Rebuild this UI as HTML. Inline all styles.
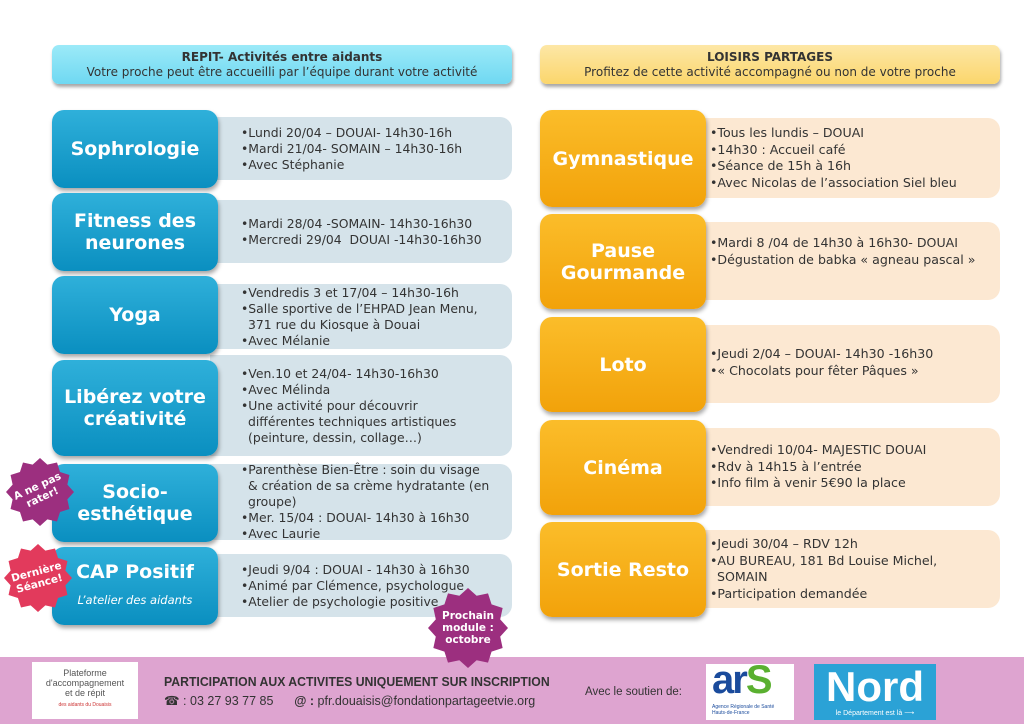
<!DOCTYPE html>
<html><head><meta charset="utf-8"><style>
body{margin:0;width:1024px;height:724px;background:#fff;position:relative;overflow:hidden;font-family:"DejaVu Sans","Liberation Sans",sans-serif;}
.a{position:absolute;box-sizing:border-box}
.hd{border-radius:7px;text-align:center;font-size:12px;line-height:15px;padding-top:5px;color:#333;box-shadow:1px 3px 3px rgba(0,0,0,.35)}
.bl{background:linear-gradient(#2fb0da,#0a8fc0);border-radius:12px;color:#fff;font-weight:bold;font-size:19px;line-height:22px;display:flex;align-items:center;justify-content:center;text-align:center;flex-direction:column;box-shadow:1px 3px 4px rgba(0,0,0,.35);z-index:2}
.or{background:linear-gradient(#fbbd2a,#f2a20a);border-radius:12px;color:#fff;font-weight:bold;font-size:19px;line-height:22px;display:flex;align-items:center;justify-content:center;text-align:center;flex-direction:column;box-shadow:1px 3px 4px rgba(0,0,0,.35);z-index:2}
.dl{background:#d5e3ea;border-radius:0 12px 12px 0;font-size:12.4px;line-height:16px;color:#333;display:flex;flex-direction:column;justify-content:center;padding-left:31px;white-space:nowrap}
.dr{background:#fce8d2;border-radius:0 12px 12px 0;font-size:12.6px;line-height:16.5px;color:#333;display:flex;flex-direction:column;justify-content:center;padding-left:10px;white-space:nowrap}
.ind{padding-left:7px}
.st{position:absolute;z-index:5}
.st span{position:absolute;left:0;top:0;width:100%;height:100%;display:flex;align-items:center;justify-content:center;text-align:center;color:#fff;font-weight:bold;font-size:10.5px;line-height:12px}
</style></head><body>
<div class="a hd" style="left:52px;top:45px;width:460px;height:39px;background:linear-gradient(#9ceaf8,#6fd8f2)"><b>REPIT- Activités entre aidants</b><br>Votre proche peut être accueilli par l’équipe durant votre activité</div>
<div class="a hd" style="left:540px;top:45px;width:460px;height:39px;background:linear-gradient(#fde7a6,#fbd66c)"><b>LOISIRS PARTAGES</b><br>Profitez de cette activité accompagné ou non de votre proche</div>

<div class="a bl" style="left:52px;top:110px;width:166px;height:78px">Sophrologie</div>
<div class="a dl" style="left:210px;top:117px;width:302px;height:63px"><div>•Lundi 20/04 – DOUAI- 14h30-16h</div><div>•Mardi 21/04- SOMAIN – 14h30-16h</div><div>•Avec Stéphanie</div></div>

<div class="a bl" style="left:52px;top:193px;width:166px;height:78px">Fitness des<br>neurones</div>
<div class="a dl" style="left:210px;top:200px;width:302px;height:63px"><div>•Mardi 28/04 -SOMAIN- 14h30-16h30</div><div>•Mercredi 29/04&nbsp; DOUAI -14h30-16h30</div></div>

<div class="a bl" style="left:52px;top:276px;width:166px;height:78px">Yoga</div>
<div class="a dl" style="left:210px;top:284px;width:302px;height:65px"><div>•Vendredis 3 et 17/04 – 14h30-16h</div><div>•Salle sportive de l’EHPAD Jean Menu,</div><div class="ind">371 rue du Kiosque à Douai</div><div>•Avec Mélanie</div></div>

<div class="a bl" style="left:52px;top:360px;width:166px;height:96px">Libérez votre<br>créativité</div>
<div class="a dl" style="left:210px;top:355px;width:302px;height:101px"><div>•Ven.10 et 24/04- 14h30-16h30</div><div>•Avec Mélinda</div><div>•Une activité pour découvrir</div><div class="ind">différentes techniques artistiques</div><div class="ind">(peinture, dessin, collage…)</div></div>

<div class="a bl" style="left:52px;top:464px;width:166px;height:78px">Socio-<br>esthétique</div>
<div class="a dl" style="left:210px;top:464px;width:302px;height:76px"><div>•Parenthèse Bien-Être : soin du visage</div><div class="ind">&amp; création de sa crème hydratante (en</div><div class="ind">groupe)</div><div>•Mer. 15/04 : DOUAI- 14h30 à 16h30</div><div>•Avec Laurie</div></div>

<div class="a bl" style="left:52px;top:547px;width:166px;height:78px">CAP Positif<span style="font-weight:normal;font-style:italic;font-size:11.5px;margin-top:6px">L’atelier des aidants</span></div>
<div class="a dl" style="left:210px;top:554px;width:302px;height:63px"><div>•Jeudi 9/04 : DOUAI - 14h30 à 16h30</div><div>•Animé par Clémence, psychologue</div><div>•Atelier de psychologie positive</div></div>

<div class="a or" style="left:540px;top:110px;width:166px;height:97px">Gymnastique</div>
<div class="a dr" style="left:700px;top:118px;width:300px;height:80px"><div>•Tous les lundis – DOUAI</div><div>•14h30 : Accueil café</div><div>•Séance de 15h à 16h</div><div>•Avec Nicolas de l’association Siel bleu</div></div>

<div class="a or" style="left:540px;top:214px;width:166px;height:95px">Pause<br>Gourmande</div>
<div class="a dr" style="left:700px;top:222px;width:300px;height:78px;justify-content:flex-start;padding-top:13px"><div>•Mardi 8 /04 de 14h30 à 16h30- DOUAI</div><div>•Dégustation de babka « agneau pascal »</div></div>

<div class="a or" style="left:540px;top:317px;width:166px;height:95px">Loto</div>
<div class="a dr" style="left:700px;top:325px;width:300px;height:78px;justify-content:flex-start;padding-top:21px"><div>•Jeudi 2/04 – DOUAI- 14h30 -16h30</div><div>•« Chocolats pour fêter Pâques »</div></div>

<div class="a or" style="left:540px;top:420px;width:166px;height:95px">Cinéma</div>
<div class="a dr" style="left:700px;top:428px;width:300px;height:78px"><div>•Vendredi 10/04- MAJESTIC DOUAI</div><div>•Rdv à 14h15 à l’entrée</div><div>•Info film à venir 5€90 la place</div></div>

<div class="a or" style="left:540px;top:522px;width:166px;height:95px">Sortie Resto</div>
<div class="a dr" style="left:700px;top:530px;width:300px;height:78px"><div>•Jeudi 30/04 – RDV 12h</div><div>•AU BUREAU, 181 Bd Louise Michel,</div><div class="ind">SOMAIN</div><div>•Participation demandée</div></div>

<div class="st" style="left:6px;top:458px;width:68px;height:68px"><svg width="68" height="68" viewBox="0 0 60 60"><polygon fill="#9c2f7f" points="60,30 54.15,36.47 55.98,45 47.68,47.68 45,55.98 36.47,54.15 30,60 23.53,54.15 15,55.98 12.32,47.68 4.02,45 5.85,36.47 0,30 5.85,23.53 4.02,15 12.32,12.32 15,4.02 23.53,5.85 30,0 36.47,5.85 45,4.02 47.68,12.32 55.98,15 54.15,23.53"/></svg><span style="transform:rotate(-25deg)">A ne pas<br>rater!</span></div>
<div class="st" style="left:4px;top:544px;width:68px;height:68px"><svg width="68" height="68" viewBox="0 0 60 60"><polygon fill="#e23a5c" points="60,30 54.15,36.47 55.98,45 47.68,47.68 45,55.98 36.47,54.15 30,60 23.53,54.15 15,55.98 12.32,47.68 4.02,45 5.85,36.47 0,30 5.85,23.53 4.02,15 12.32,12.32 15,4.02 23.53,5.85 30,0 36.47,5.85 45,4.02 47.68,12.32 55.98,15 54.15,23.53"/></svg><span style="transform:rotate(-15deg)">Dernière<br>Séance!</span></div>
<div class="st" style="left:428px;top:588px;width:80px;height:80px"><svg width="80" height="80" viewBox="0 0 60 60"><polygon fill="#9c2f7f" points="60,30 54.15,36.47 55.98,45 47.68,47.68 45,55.98 36.47,54.15 30,60 23.53,54.15 15,55.98 12.32,47.68 4.02,45 5.85,36.47 0,30 5.85,23.53 4.02,15 12.32,12.32 15,4.02 23.53,5.85 30,0 36.47,5.85 45,4.02 47.68,12.32 55.98,15 54.15,23.53"/></svg><span>Prochain<br>module :<br>octobre</span></div>

<div class="a" style="left:0;top:657px;width:1024px;height:67px;background:#dea4d0"></div>
<div class="a" style="left:32px;top:662px;width:106px;height:57px;background:#fff;text-align:center;font-family:'Liberation Sans',sans-serif;font-size:9px;line-height:10px;color:#555;padding-top:6px">Plateforme<br>d'accompagnement<br>et de répit<br><span style="font-size:5px;color:#c33">des aidants du Douaisis</span></div>
<div class="a" style="left:164px;top:675px;font-family:'Liberation Sans',sans-serif;font-size:12.5px;font-weight:bold;color:#333;transform:scaleX(.98);transform-origin:left;white-space:nowrap">PARTICIPATION AUX ACTIVITES UNIQUEMENT SUR INSCRIPTION</div>
<div class="a" style="left:164px;top:693px;font-family:'Liberation Sans',sans-serif;font-size:12.5px;color:#333;white-space:nowrap">☎ : 03 27 93 77 85 &nbsp;&nbsp;&nbsp;&nbsp; <b>@ :</b> pfr.douaisis@fondationpartageetvie.org</div>
<div class="a" style="left:585px;top:686px;font-family:'Liberation Sans',sans-serif;font-size:11.5px;color:#333;white-space:nowrap">Avec le soutien de:</div>
<div class="a" style="left:706px;top:664px;width:88px;height:56px;background:#fff;font-family:'Liberation Sans',sans-serif"><div style="position:absolute;left:6px;top:-6px;font-size:40px;font-weight:bold;color:#1a4b9c;letter-spacing:-2px">ar<span style="color:#5ab030">S</span></div><div style="position:absolute;left:6px;top:40px;font-size:5px;color:#1a4b9c">Agence Régionale de Santé<br>Hauts-de-France</div></div>
<div class="a" style="left:814px;top:664px;width:122px;height:56px;background:#2ba2d6;color:#fff;font-family:'Liberation Sans',sans-serif;text-align:center"><div style="font-size:42px;font-weight:bold;line-height:44px;margin-top:1px">Nord</div><div style="font-size:7px">le Département est là ⟶</div></div>
</body></html>
